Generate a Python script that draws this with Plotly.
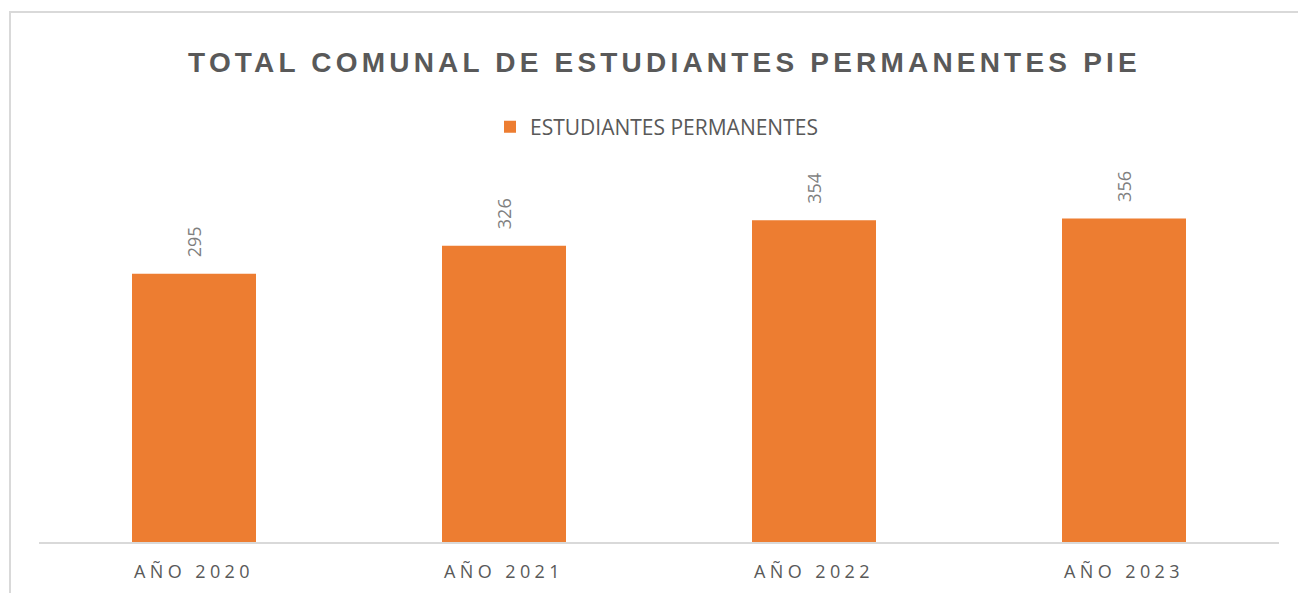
import plotly.graph_objects as go

categories = ["AÑO 2020", "AÑO 2021", "AÑO 2022", "AÑO 2023"]
values = [295, 326, 354, 356]
series_name = "ESTUDIANTES PERMANENTES"
title_text = "TOTAL COMUNAL DE ESTUDIANTES PERMANENTES PIE"

W, H = 1298, 593
ML, MR, MT, MB = 39, 19, 150, 51
plot_h = H - MT - MB
plot_w = W - ML - MR

def px_x(p):
    return (p - ML) / plot_w

def px_y(p):
    return (H - MB - p) / plot_h

fig = go.Figure()
fig.add_trace(go.Bar(
    x=categories, y=values, name=series_name,
    marker=dict(color="#ED7D31", line=dict(width=0)),
    width=0.4,
    showlegend=True,
))

for c, v in zip(categories, values):
    fig.add_annotation(
        x=c, y=v, xref="x", yref="y",
        text=str(v), showarrow=False, textangle=-90,
        xanchor="center", yanchor="bottom", yshift=14,
        font=dict(family="Open Sans", size=18, color="#7f7f7f"),
    )

fig.update_layout(
    width=W, height=H,
    margin=dict(l=ML, r=MR, t=MT, b=MB, autoexpand=False),
    paper_bgcolor="white", plot_bgcolor="white",
    title=dict(
        text=title_text,
        font=dict(family="Liberation Sans", size=28, color="#595959", weight="bold"),
        xref="container", x=664.5 / W, xanchor="center",
        yref="container", y=1 - 62 / H, yanchor="middle",
    ),
    showlegend=True,
    legend=dict(
        orientation="h",
        xref="paper", x=px_x(490), xanchor="left",
        yref="paper", y=px_y(127), yanchor="middle",
        font=dict(family="Open Sans", size=21, color="#595959"),
        bgcolor="rgba(0,0,0,0)", borderwidth=0,
    ),
    xaxis=dict(
        showline=True, linecolor="#d9d9d9", linewidth=2,
        ticks="", showgrid=False, zeroline=False, automargin=False,
        tickfont=dict(family="Open Sans", size=18, color="#595959"),
        ticklabelstandoff=12,
    ),
    yaxis=dict(
        range=[0, plot_h / 0.909], automargin=False,
        visible=False, showgrid=False, zeroline=False,
    ),
)

fig.add_shape(
    type="rect", xref="paper", yref="paper",
    x0=px_x(10), x1=px_x(W + 50), y0=px_y(H + 50), y1=px_y(12),
    line=dict(color="#d9d9d9", width=2), fillcolor="rgba(0,0,0,0)",
    layer="below",
)

post = (
    "document.body.style.margin='0';"
    "document.querySelectorAll('text.gtitle').forEach(function(e){e.style.letterSpacing='4.2px';});"
    "document.querySelectorAll('.xtick text').forEach(function(e){e.style.letterSpacing='4.4px';});"
)

fig.write_html("out.html", post_script=post, config={"displayModeBar": False})
